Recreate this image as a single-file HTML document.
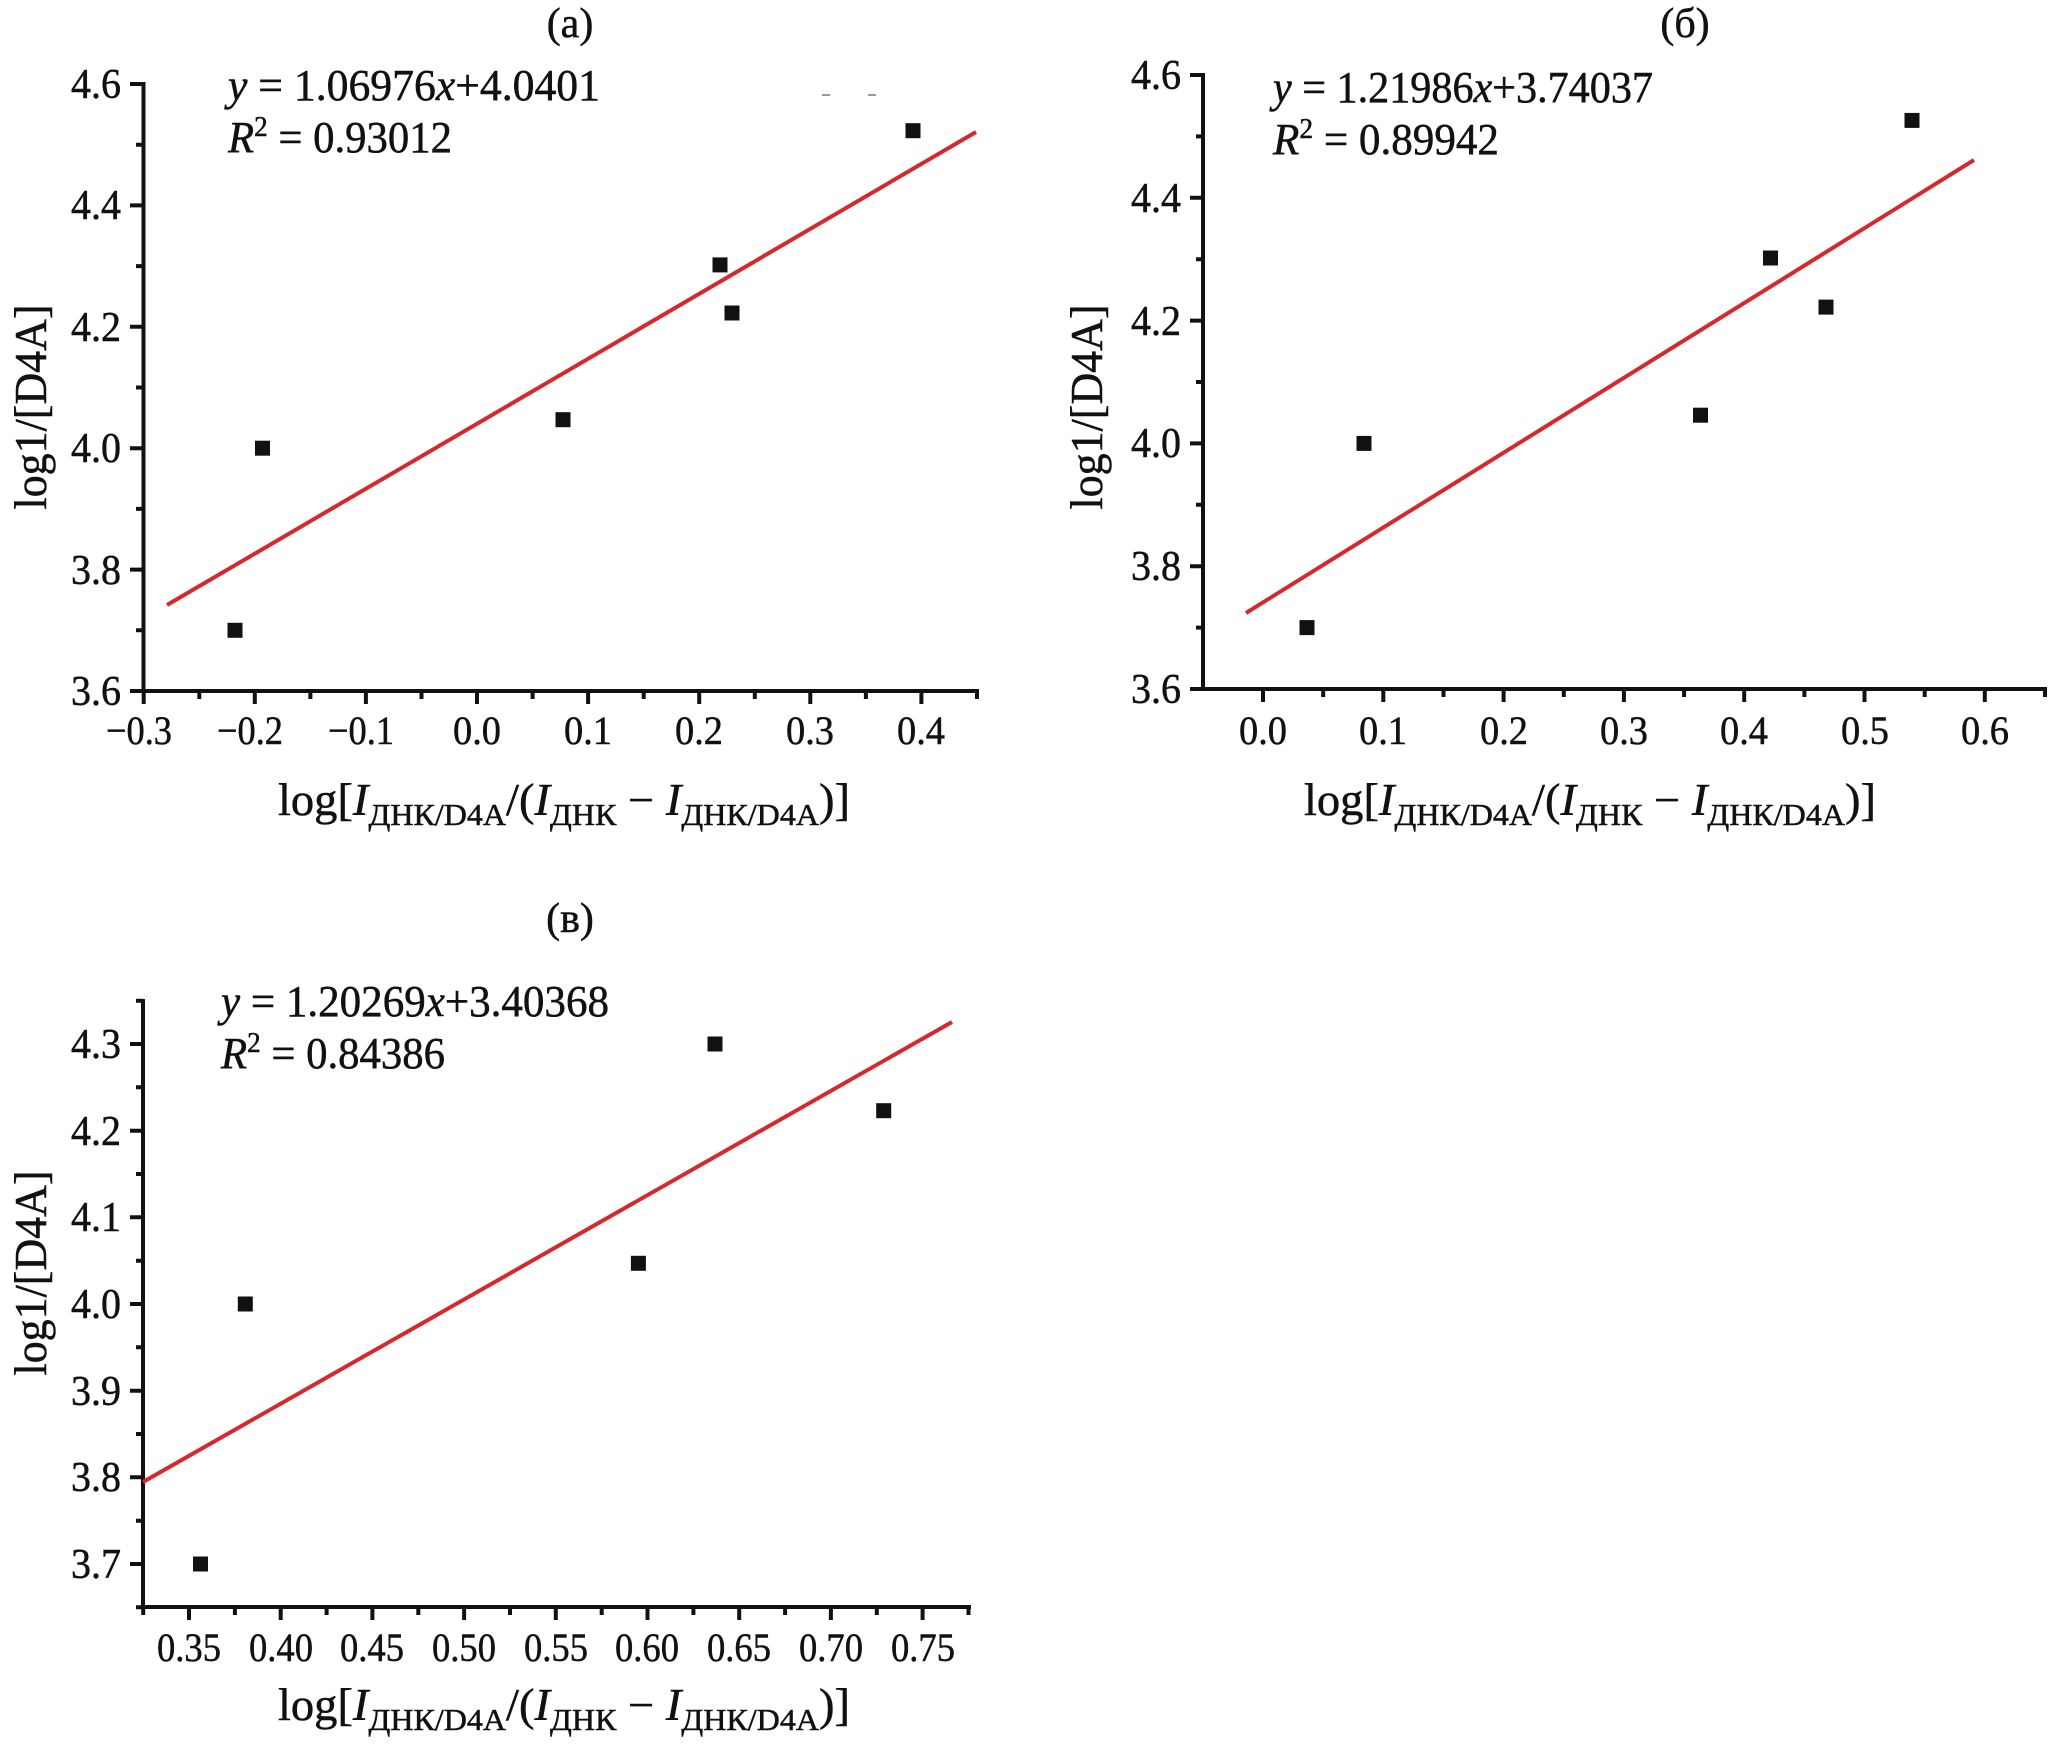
<!DOCTYPE html>
<html>
<head>
<meta charset="utf-8">
<style>
html,body{margin:0;padding:0;background:#fff;}
svg{display:block;}
text{font-family:"Liberation Serif","DejaVu Serif",serif;fill:#111;stroke:#111;stroke-width:0.5px;}
.yl{font-size:42px;text-anchor:end;}
.xl{font-size:40px;text-anchor:middle;}
.ttl{font-size:42px;text-anchor:middle;}
.eq{font-size:44px;}
.lab{font-size:45px;}
.it{font-style:italic;}
</style>
</head>
<body>
<svg width="2067" height="1755" viewBox="0 0 2067 1755" xmlns="http://www.w3.org/2000/svg">
<rect width="2067" height="1755" fill="#fff"/>

<!-- ================= PANEL (a) ================= -->
<text class="ttl" x="570" y="37">(a)</text>
<g stroke="#111" stroke-width="4" fill="none">
  <path d="M143.5,84 V691 H977" stroke-linecap="square"/>
  <path d="M143.7,691V704 M254.8,691V704 M365.9,691V704 M477,691V704 M588.1,691V704 M699.2,691V704 M810.3,691V704 M921.4,691V704"/>
  <path d="M199.3,691V699 M310.4,691V699 M421.5,691V699 M532.6,691V699 M643.7,691V699 M754.8,691V699 M865.9,691V699 M977,691V699"/>
  <path d="M143,84H130 M143,205.4H130 M143,326.8H130 M143,448.2H130 M143,569.6H130 M143,691H130"/>
  <path d="M143,144.7H136 M143,266.1H136 M143,387.5H136 M143,508.9H136 M143,630.3H136"/>
</g>
<g>
  <text class="yl" x="121" y="98" textLength="50" lengthAdjust="spacingAndGlyphs">4.6</text>
  <text class="yl" x="121" y="219" textLength="50" lengthAdjust="spacingAndGlyphs">4.4</text>
  <text class="yl" x="121" y="341" textLength="50" lengthAdjust="spacingAndGlyphs">4.2</text>
  <text class="yl" x="121" y="462" textLength="50" lengthAdjust="spacingAndGlyphs">4.0</text>
  <text class="yl" x="121" y="584" textLength="50" lengthAdjust="spacingAndGlyphs">3.8</text>
  <text class="yl" x="121" y="705" textLength="50" lengthAdjust="spacingAndGlyphs">3.6</text>
</g>
<g>
  <text class="xl" x="139" y="744" textLength="66" lengthAdjust="spacingAndGlyphs">−0.3</text>
  <text class="xl" x="250" y="744" textLength="66" lengthAdjust="spacingAndGlyphs">−0.2</text>
  <text class="xl" x="361" y="744" textLength="66" lengthAdjust="spacingAndGlyphs">−0.1</text>
  <text class="xl" x="477" y="744" textLength="48" lengthAdjust="spacingAndGlyphs">0.0</text>
  <text class="xl" x="588" y="744" textLength="48" lengthAdjust="spacingAndGlyphs">0.1</text>
  <text class="xl" x="699" y="744" textLength="48" lengthAdjust="spacingAndGlyphs">0.2</text>
  <text class="xl" x="810" y="744" textLength="48" lengthAdjust="spacingAndGlyphs">0.3</text>
  <text class="xl" x="921" y="744" textLength="48" lengthAdjust="spacingAndGlyphs">0.4</text>
</g>
<text class="lab" transform="translate(46,407) rotate(-90)" text-anchor="middle" textLength="205" lengthAdjust="spacingAndGlyphs">log1/[D4A]</text>
<text class="lab" x="278" y="815" textLength="572" lengthAdjust="spacingAndGlyphs">log[<tspan class="it">I</tspan><tspan font-size="31" dy="10">ДНК/D4A</tspan><tspan dy="-10">/(</tspan><tspan class="it">I</tspan><tspan font-size="31" dy="10">ДНК</tspan><tspan dy="-10"> − </tspan><tspan class="it">I</tspan><tspan font-size="31" dy="10">ДНК/D4A</tspan><tspan dy="-10">)]</tspan></text>
<text class="eq" x="228" y="100" textLength="372" lengthAdjust="spacingAndGlyphs"><tspan class="it">y</tspan> = 1.06976<tspan class="it">x</tspan>+4.0401</text>
<text class="eq" x="228" y="152" textLength="224" lengthAdjust="spacingAndGlyphs"><tspan class="it">R</tspan><tspan font-size="28" dy="-16">2</tspan><tspan dy="16"> = 0.93012</tspan></text>
<g stroke="#999" stroke-width="2"><path d="M822,95H830 M868,95H876"/></g>
<line x1="167" y1="605" x2="976" y2="132" stroke="#d42a2e" stroke-width="4"/>
<g fill="#111">
  <rect x="227.5" y="622.8" width="15" height="15"/>
  <rect x="255" y="440.7" width="15" height="15"/>
  <rect x="555.5" y="412.2" width="15" height="15"/>
  <rect x="712.5" y="257.4" width="15" height="15"/>
  <rect x="724.5" y="305.5" width="15" height="15"/>
  <rect x="905.5" y="123.2" width="15" height="15"/>
</g>

<!-- ================= PANEL (б) ================= -->
<text class="ttl" x="1685" y="37">(б)</text>
<g stroke="#111" stroke-width="4" fill="none">
  <path d="M1203,75 V689 H2045" stroke-linecap="square"/>
  <path d="M1263,689V702 M1383.3,689V702 M1503.6,689V702 M1623.9,689V702 M1744.2,689V702 M1864.5,689V702 M1984.8,689V702"/>
  <path d="M1323.2,689V697 M1443.5,689V697 M1563.8,689V697 M1684.1,689V697 M1804.4,689V697 M1924.7,689V697 M2045,689V697"/>
  <path d="M1203,75H1190 M1203,197.8H1190 M1203,320.6H1190 M1203,443.4H1190 M1203,566.2H1190 M1203,689H1190"/>
  <path d="M1203,136.4H1196 M1203,259.2H1196 M1203,382H1196 M1203,504.8H1196 M1203,627.6H1196"/>
</g>
<g>
  <text class="yl" x="1181" y="89" textLength="50" lengthAdjust="spacingAndGlyphs">4.6</text>
  <text class="yl" x="1181" y="212" textLength="50" lengthAdjust="spacingAndGlyphs">4.4</text>
  <text class="yl" x="1181" y="335" textLength="50" lengthAdjust="spacingAndGlyphs">4.2</text>
  <text class="yl" x="1181" y="457" textLength="50" lengthAdjust="spacingAndGlyphs">4.0</text>
  <text class="yl" x="1181" y="580" textLength="50" lengthAdjust="spacingAndGlyphs">3.8</text>
  <text class="yl" x="1181" y="703" textLength="50" lengthAdjust="spacingAndGlyphs">3.6</text>
</g>
<g>
  <text class="xl" x="1263" y="744" textLength="48" lengthAdjust="spacingAndGlyphs">0.0</text>
  <text class="xl" x="1383" y="744" textLength="48" lengthAdjust="spacingAndGlyphs">0.1</text>
  <text class="xl" x="1504" y="744" textLength="48" lengthAdjust="spacingAndGlyphs">0.2</text>
  <text class="xl" x="1624" y="744" textLength="48" lengthAdjust="spacingAndGlyphs">0.3</text>
  <text class="xl" x="1744" y="744" textLength="48" lengthAdjust="spacingAndGlyphs">0.4</text>
  <text class="xl" x="1865" y="744" textLength="48" lengthAdjust="spacingAndGlyphs">0.5</text>
  <text class="xl" x="1985" y="744" textLength="48" lengthAdjust="spacingAndGlyphs">0.6</text>
</g>
<text class="lab" transform="translate(1102,407) rotate(-90)" text-anchor="middle" textLength="205" lengthAdjust="spacingAndGlyphs">log1/[D4A]</text>
<text class="lab" x="1304" y="815" textLength="572" lengthAdjust="spacingAndGlyphs">log[<tspan class="it">I</tspan><tspan font-size="31" dy="10">ДНК/D4A</tspan><tspan dy="-10">/(</tspan><tspan class="it">I</tspan><tspan font-size="31" dy="10">ДНК</tspan><tspan dy="-10"> − </tspan><tspan class="it">I</tspan><tspan font-size="31" dy="10">ДНК/D4A</tspan><tspan dy="-10">)]</tspan></text>
<text class="eq" x="1273" y="102" textLength="380" lengthAdjust="spacingAndGlyphs"><tspan class="it">y</tspan> = 1.21986<tspan class="it">x</tspan>+3.74037</text>
<text class="eq" x="1273" y="154" textLength="226" lengthAdjust="spacingAndGlyphs"><tspan class="it">R</tspan><tspan font-size="28" dy="-16">2</tspan><tspan dy="16"> = 0.89942</tspan></text>
<line x1="1246" y1="613" x2="1974" y2="160" stroke="#d42a2e" stroke-width="4"/>
<g fill="#111">
  <rect x="1299.5" y="620.1" width="15" height="15"/>
  <rect x="1356.5" y="435.9" width="15" height="15"/>
  <rect x="1693" y="407.7" width="15" height="15"/>
  <rect x="1763" y="250.5" width="15" height="15"/>
  <rect x="1818.5" y="299.6" width="15" height="15"/>
  <rect x="1904.5" y="112.9" width="15" height="15"/>
</g>

<!-- ================= PANEL (в) ================= -->
<text class="ttl" x="570" y="932">(в)</text>
<g stroke="#111" stroke-width="4" fill="none">
  <path d="M143,1001 V1607 H969" stroke-linecap="square"/>
  <path d="M189,1607V1620 M280.7,1607V1620 M372.4,1607V1620 M464.1,1607V1620 M555.8,1607V1620 M647.5,1607V1620 M739.2,1607V1620 M830.9,1607V1620 M922.6,1607V1620"/>
  <path d="M143.2,1607V1615 M234.9,1607V1615 M326.6,1607V1615 M418.3,1607V1615 M510,1607V1615 M601.7,1607V1615 M693.4,1607V1615 M785.1,1607V1615 M876.8,1607V1615 M968.5,1607V1615"/>
  <path d="M143,1044H130 M143,1130.7H130 M143,1217.3H130 M143,1304H130 M143,1390.7H130 M143,1477.3H130 M143,1564H130"/>
  <path d="M143,1000.7H136 M143,1087.3H136 M143,1174H136 M143,1260.7H136 M143,1347.3H136 M143,1434H136 M143,1520.7H136 M143,1607.3H136"/>
</g>
<g>
  <text class="yl" x="121" y="1058" textLength="50" lengthAdjust="spacingAndGlyphs">4.3</text>
  <text class="yl" x="121" y="1145" textLength="50" lengthAdjust="spacingAndGlyphs">4.2</text>
  <text class="yl" x="121" y="1231" textLength="50" lengthAdjust="spacingAndGlyphs">4.1</text>
  <text class="yl" x="121" y="1318" textLength="50" lengthAdjust="spacingAndGlyphs">4.0</text>
  <text class="yl" x="121" y="1405" textLength="50" lengthAdjust="spacingAndGlyphs">3.9</text>
  <text class="yl" x="121" y="1491" textLength="50" lengthAdjust="spacingAndGlyphs">3.8</text>
  <text class="yl" x="121" y="1578" textLength="50" lengthAdjust="spacingAndGlyphs">3.7</text>
</g>
<g>
  <text class="xl" x="189" y="1661" textLength="64" lengthAdjust="spacingAndGlyphs">0.35</text>
  <text class="xl" x="281" y="1661" textLength="64" lengthAdjust="spacingAndGlyphs">0.40</text>
  <text class="xl" x="372" y="1661" textLength="64" lengthAdjust="spacingAndGlyphs">0.45</text>
  <text class="xl" x="464" y="1661" textLength="64" lengthAdjust="spacingAndGlyphs">0.50</text>
  <text class="xl" x="556" y="1661" textLength="64" lengthAdjust="spacingAndGlyphs">0.55</text>
  <text class="xl" x="647" y="1661" textLength="64" lengthAdjust="spacingAndGlyphs">0.60</text>
  <text class="xl" x="739" y="1661" textLength="64" lengthAdjust="spacingAndGlyphs">0.65</text>
  <text class="xl" x="831" y="1661" textLength="64" lengthAdjust="spacingAndGlyphs">0.70</text>
  <text class="xl" x="923" y="1661" textLength="64" lengthAdjust="spacingAndGlyphs">0.75</text>
</g>
<text class="lab" transform="translate(46,1273) rotate(-90)" text-anchor="middle" textLength="205" lengthAdjust="spacingAndGlyphs">log1/[D4A]</text>
<text class="lab" x="278" y="1720" textLength="572" lengthAdjust="spacingAndGlyphs">log[<tspan class="it">I</tspan><tspan font-size="31" dy="10">ДНК/D4A</tspan><tspan dy="-10">/(</tspan><tspan class="it">I</tspan><tspan font-size="31" dy="10">ДНК</tspan><tspan dy="-10"> − </tspan><tspan class="it">I</tspan><tspan font-size="31" dy="10">ДНК/D4A</tspan><tspan dy="-10">)]</tspan></text>
<text class="eq" x="221" y="1016" textLength="388" lengthAdjust="spacingAndGlyphs"><tspan class="it">y</tspan> = 1.20269<tspan class="it">x</tspan>+3.40368</text>
<text class="eq" x="221" y="1068" textLength="224" lengthAdjust="spacingAndGlyphs"><tspan class="it">R</tspan><tspan font-size="28" dy="-16">2</tspan><tspan dy="16"> = 0.84386</tspan></text>
<line x1="143" y1="1482" x2="952" y2="1022" stroke="#d42a2e" stroke-width="4"/>
<g fill="#111">
  <rect x="193" y="1556.5" width="15" height="15"/>
  <rect x="237.8" y="1296.5" width="15" height="15"/>
  <rect x="630.9" y="1255.8" width="15" height="15"/>
  <rect x="707.5" y="1036.5" width="15" height="15"/>
  <rect x="876.2" y="1103.2" width="15" height="15"/>
</g>
</svg>
</body>
</html>
